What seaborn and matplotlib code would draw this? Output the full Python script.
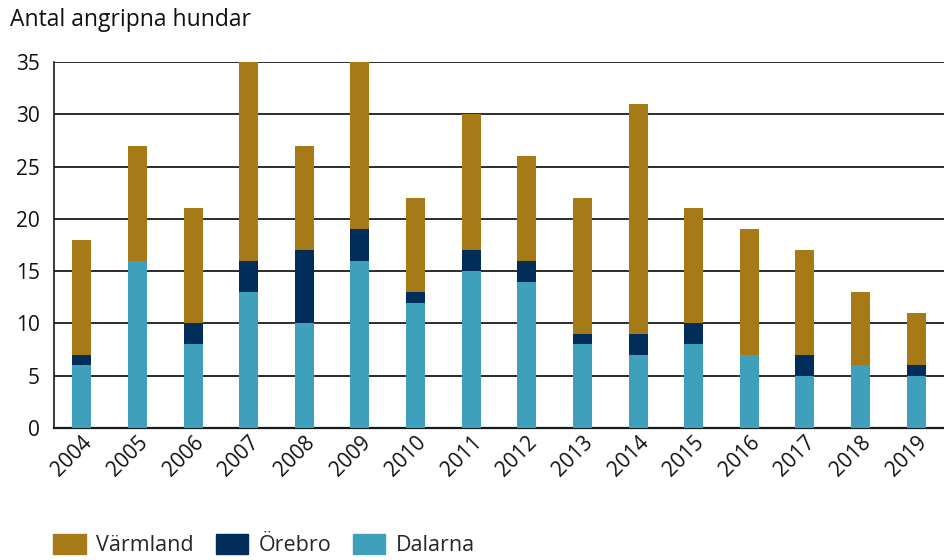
import numpy as np
import pandas as pd
import matplotlib
matplotlib.use('Agg')
import matplotlib.pyplot as plt
import seaborn as sns
from matplotlib.patches import Patch

years = ['2004', '2005', '2006', '2007', '2008', '2009', '2010', '2011',
         '2012', '2013', '2014', '2015', '2016', '2017', '2018', '2019']
dalarna = [6, 16, 8, 13, 10, 16, 12, 15, 14, 8, 7, 8, 7, 5, 6, 5]
orebro = [1, 0, 2, 3, 7, 3, 1, 2, 2, 1, 2, 2, 0, 2, 0, 1]
varmland = [11, 11, 11, 19, 10, 16, 9, 13, 10, 13, 22, 11, 12, 10, 7, 5]

col_varm = '#A67B17'
col_ore = '#002D5A'
col_dal = '#3EA0BA'

sns.set_style('white')
plt.rcParams['font.family'] = ['Open Sans', 'DejaVu Sans']

df = pd.DataFrame({'year': years, 'Dalarna': dalarna, 'Örebro': orebro, 'Värmland': varmland})
df['low'] = df['Dalarna']
df['mid'] = df['Dalarna'] + df['Örebro']
df['top'] = df['mid'] + df['Värmland']

fig = plt.figure(figsize=(9.44, 5.6), dpi=100)
ax = fig.add_axes([0.0572, 0.2357, 0.9428, 0.6536])

# stacked by overdrawing cumulative totals
for col, c in [('top', col_varm), ('mid', col_ore), ('low', col_dal)]:
    sns.barplot(data=df, x='year', y=col, color=c, width=0.34, saturation=1,
                linewidth=0, edgecolor='none', ax=ax, zorder=3)

ax.set_ylim(0, 35)
ax.set_xlim(-0.5, 15.5)
ax.set_yticks(range(0, 36, 5))
ax.yaxis.grid(True, color='#1a1a1a', linewidth=1.3, zorder=0)
ax.set_axisbelow(True)
ax.set_xlabel('')
ax.set_ylabel('')
for s in ['top', 'right']:
    ax.spines[s].set_visible(False)
ax.spines['left'].set_color('#1a1a1a')
ax.spines['bottom'].set_color('#1a1a1a')
ax.spines['left'].set_linewidth(1.2)
ax.spines['bottom'].set_linewidth(1.6)
ax.tick_params(axis='y', length=0, pad=10, labelsize=15, colors='#111111')
ax.tick_params(axis='x', length=0, pad=3, labelsize=15, colors='#111111')
plt.setp(ax.get_xticklabels(), rotation=45, ha='right', va='top', rotation_mode='anchor')

fig.text(0.011, 0.965, 'Antal angripna hundar', fontsize=16.5, ha='left', va='center', color='#111111')

handles = [Patch(color=col_varm, label='Värmland'),
           Patch(color=col_ore, label='Örebro'),
           Patch(color=col_dal, label='Dalarna')]
fig.legend(handles=handles, loc='lower left', bbox_to_anchor=(0.036, -0.028), ncol=3,
           frameon=False, fontsize=15.5, handlelength=1.5, handleheight=1.1,
           handletextpad=0.5, columnspacing=1.0)

fig.savefig('out.png', dpi=100)
